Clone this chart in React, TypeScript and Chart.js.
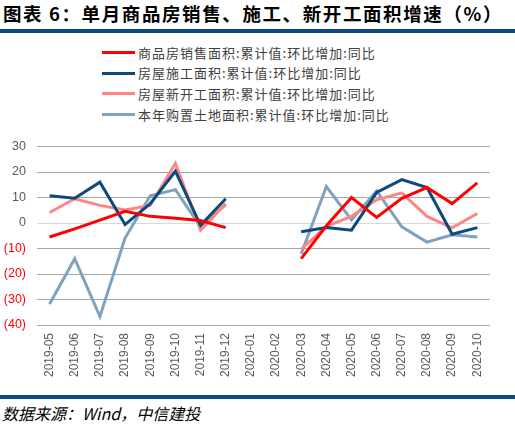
import React, { useEffect, useRef } from "react";
import { Chart, registerables } from "chart.js";

Chart.register(...registerables);

const categories = [
  "2019-05", "2019-06", "2019-07", "2019-08", "2019-09", "2019-10", "2019-11", "2019-12",
  "2020-01", "2020-02", "2020-03", "2020-04", "2020-05", "2020-06", "2020-07", "2020-08", "2020-09", "2020-10",
];

const salesArea = [-5.5, -2.3, 1.1, 4.6, 2.6, 1.9, 1.0, -1.8, null, null, -14.0, -1.1, 10.0, 2.2, 9.7, 13.9, 7.6, 15.7];
const constructionArea = [10.7, 9.7, 16.0, -0.6, 7.6, 20.3, -0.9, 9.5, null, null, -3.4, -1.8, -2.8, 12.0, 17.0, 13.9, -4.4, -1.8];
const newStartsArea = [4.1, 9.5, 6.9, 5.1, 6.9, 23.4, -2.8, 7.6, null, null, -10.3, -1.3, 2.6, 9.1, 11.8, 2.6, -1.9, 3.7];
const landArea = [-31.8, -14.0, -36.7, -5.9, 10.7, 13.1, -1.5, 7.2, null, null, -12.1, 14.3, 1.2, 12.6, -1.5, -7.5, -4.6, -5.5];

const seriesNames = [
  "商品房销售面积:累计值:环比增加:同比",
  "房屋施工面积:累计值:环比增加:同比",
  "房屋新开工面积:累计值:环比增加:同比",
  "本年购置土地面积:累计值:环比增加:同比",
];
const seriesColors = ["#ff0000", "#0d4a7c", "#ff8585", "#7fa2bd"];

const yMin = -40;
const yMax = 30;
const yStep = 10;

export default function App() {
  const canvasRef = useRef<HTMLCanvasElement | null>(null);

  useEffect(() => {
    document.body.style.margin = "0";
    const canvas = canvasRef.current;
    if (!canvas) return;
    const seriesData = [salesArea, constructionArea, newStartsArea, landArea];
    const chart = new Chart(canvas, {
      type: "line",
      data: {
        labels: categories,
        datasets: seriesData.map((d, i) => ({
          label: seriesNames[i],
          data: d,
          borderColor: seriesColors[i],
          backgroundColor: seriesColors[i],
          borderWidth: 3,
          pointRadius: 0,
          tension: 0,
          spanGaps: false,
          fill: false,
        })),
      },
      options: {
        responsive: false,
        animation: false,
        devicePixelRatio: 1,
        layout: { padding: { top: 10, right: 10, left: 0, bottom: 0 } },
        plugins: { legend: { display: false }, tooltip: { enabled: false } },
        scales: {
          x: {
            offset: true,
            grid: { display: false, drawTicks: false },
            border: { display: false },
            ticks: {
              autoSkip: false,
              maxRotation: 90,
              minRotation: 90,
              padding: 8,
              color: "#595959",
              font: { family: "'Liberation Sans', Arial, sans-serif", size: 12 },
            },
            afterFit: (scale: any) => {
              scale.height = 65;
            },
          },
          y: {
            min: yMin,
            max: yMax,
            grid: {
              drawTicks: false,
              lineWidth: 1,
              color: (ctx: any) => (ctx.tick && ctx.tick.value === 0 ? "#d9d9d9" : "#a6a6a6"),
            },
            border: { display: false },
            ticks: {
              stepSize: yStep,
              padding: 11,
              color: (ctx: any) => (ctx.tick && ctx.tick.value < 0 ? "#ff0000" : "#595959"),
              font: { family: "'Liberation Sans', Arial, sans-serif", size: 12.5 },
              callback: (v: any) => (Number(v) < 0 ? `(${-Number(v)})` : `${v}`),
            },
            afterFit: (scale: any) => {
              scale.width = 37;
            },
          },
        },
      },
    });
    return () => chart.destroy();
  }, []);

  const legendTop = [52.5, 73.2, 93.9, 114.6];

  return (
    <div
      style={{
        position: "fixed",
        left: 0,
        top: 0,
        width: 515,
        height: 427,
        background: "#fff",
        overflow: "hidden",
        fontFamily: "'Noto Sans CJK SC', sans-serif",
      }}
    >
      <div
        style={{
          position: "absolute",
          left: 3,
          top: 0,
          height: 26,
          lineHeight: "26px",
          fontSize: 18.5,
          fontWeight: 700,
          letterSpacing: 1.6,
          color: "#000",
          whiteSpace: "nowrap",
        }}
      >
        图表 6：单月商品房销售、施工、新开工面积增速（%）
      </div>
      <div style={{ position: "absolute", left: 0, top: 29, width: 515, height: 4, background: "#0b4a86" }} />
      {seriesNames.map((name, i) => (
        <div key={name} style={{ position: "absolute", left: 102, top: legendTop[i] - 10, height: 20 }}>
          <div
            style={{
              position: "absolute",
              left: 0,
              top: 8.5,
              width: 33,
              height: 3,
              background: seriesColors[i],
            }}
          />
          <div
            style={{
              position: "absolute",
              left: 36,
              top: 0,
              lineHeight: "20px",
              fontSize: 13,
              letterSpacing: 1,
              color: "#404040",
              whiteSpace: "nowrap",
            }}
          >
            {name}
          </div>
        </div>
      ))}
      <canvas
        ref={canvasRef}
        width={500}
        height={262}
        style={{ position: "absolute", left: 0, top: 128, width: 500, height: 262 }}
      />
      <div style={{ position: "absolute", left: 0, top: 395, width: 515, height: 3.5, background: "#0b4a86" }} />
      <div
        style={{
          position: "absolute",
          left: 2,
          top: 402,
          lineHeight: "22px",
          fontSize: 16,
          fontStyle: "italic",
          color: "#000",
          whiteSpace: "nowrap",
        }}
      >
        数据来源：Wind，中信建投
      </div>
    </div>
  );
}
